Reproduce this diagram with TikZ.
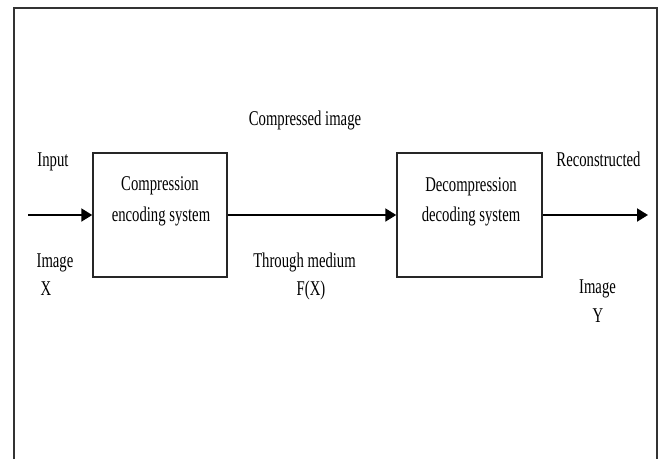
\documentclass[tikz,border=0pt]{standalone}
\usepackage{fontspec}
\setmainfont{Liberation Serif}
\usetikzlibrary{arrows.meta}
\newcommand{\sqz}[1]{\scalebox{0.70}[1]{#1}}
\tikzset{
  box/.style={draw=black!85, line width=1.5pt, minimum width=134pt, minimum height=124pt, inner sep=0pt},
  lbl/.style={anchor=base, inner sep=0pt, font=\fontsize{21}{25}\selectfont},
  flow/.style={line width=2pt, -{Triangle[length=11pt,width=13pt]}},
  frame/.style={draw=black!80, line width=1.5pt}
}
\begin{document}
\begin{tikzpicture}[x=1pt,y=-1pt]
\useasboundingbox (0,0) rectangle (660,459);
% frame (open at bottom)
\draw[frame] (14,459) -- (14,8) -- (657,8) -- (657,459);
% boxes
\node[box] (enc) at (160,215) {};
\node[box, minimum width=145pt] (dec) at (469.5,215) {};
% box texts
\node[lbl] (enc1) at (160,190) {\sqz{Compression}};
\node[lbl] (enc2) at (161,221) {\sqz{encoding system}};
\node[lbl] (dec1) at (471,191) {\sqz{Decompression}};
\node[lbl] (dec2) at (471,221) {\sqz{decoding system}};
% connectors
\coordinate (in) at (28,215);
\coordinate (out) at (648,215);
\draw[flow] (in) -- (enc.west);
\draw[flow] (enc.east) -- (dec.west);
\draw[flow] (dec.east) -- (out);
% labels
\node[lbl] (input) at (53,166) {\sqz{Input}};
\node[lbl] (imgx1) at (55,267) {\sqz{Image}};
\node[lbl] (imgx2) at (46,295) {\sqz{X}};
\node[lbl] (comp) at (305,125) {\sqz{Compressed image}};
\node[lbl] (thr1) at (304.5,267) {\sqz{Through medium}};
\node[lbl] (thr2) at (311,295) {\sqz{F(X)}};
\node[lbl] (rec) at (598.5,166) {\sqz{Reconstructed}};
\node[lbl] (imgy1) at (597.5,293) {\sqz{Image}};
\node[lbl] (imgy2) at (598,322) {\sqz{Y}};
\end{tikzpicture}
\end{document}
